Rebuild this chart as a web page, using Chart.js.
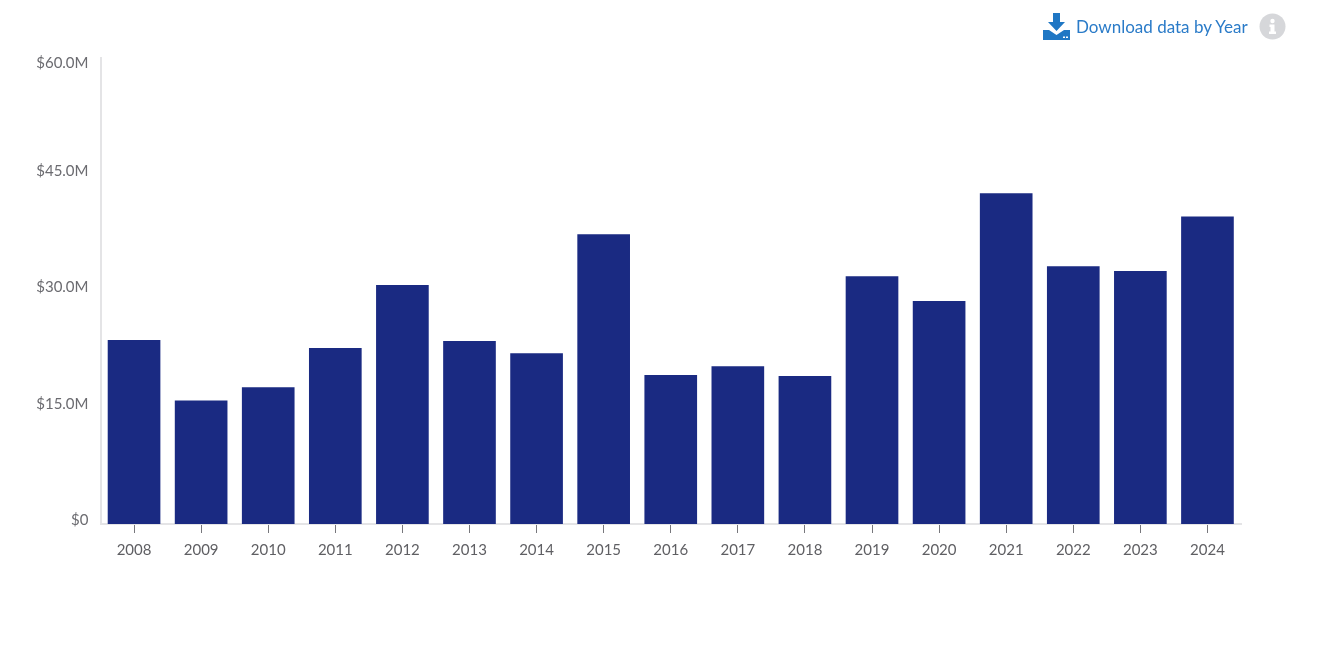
<!DOCTYPE html>
<html>
<head>
<meta charset="utf-8">
<title>Funding by year</title>
<script src="https://cdn.jsdelivr.net/npm/chart.js@4"></script>
<style>
    html, body { margin: 0; padding: 0; background: #fff; }
    #wrap { position: relative; width: 1317px; height: 648px; overflow: hidden; }
    #chart { position: absolute; left: 0; top: 0; }
    #download { position: absolute; left: 1043px; top: 12px; height: 28px; display: flex; align-items: center; text-decoration: none;
        color: #2a7bc8; font: 17px Lato, sans-serif; }
    #download svg { margin-right: 6px; }
    #info { position: absolute; left: 1259px; top: 13px; }
</style>
</head>
<body>
<div id="wrap">
    <canvas id="chart" width="1317" height="648"></canvas>
    <a id="download" href="#">
        <svg width="27" height="27" viewBox="0 0 27 27">
            <path d="M10 0h7v9h5l-8.500 9L5 9h5z" fill="#1f77c4"/>
            <path d="M0 17h6l7.500 5 7.500-5h6v10H0z" fill="#1f77c4"/>
            <rect x="20" y="23.500" width="2" height="1.500" fill="#fff"/>
            <rect x="23" y="23.500" width="2" height="1.500" fill="#fff"/>
        </svg>Download data by Year</a>
    <svg id="info" width="27" height="27" viewBox="0 0 27 27">
        <circle cx="13.500" cy="13.500" r="13" fill="#d6d7da"/>
        <circle cx="13.500" cy="8" r="2.200" fill="#fff"/>
        <path d="M10.500 11.500h5v7h1.500v2.500h-7v-2.500h1.500v-4.500h-1z" fill="#fff"/>
    </svg>
</div>
<script>
const years = ['2008','2009','2010','2011','2012','2013','2014','2015','2016','2017','2018','2019','2020','2021','2022','2023','2024'];
const fundingM = [23.7, 15.9, 17.6, 22.65, 30.76, 23.55, 22.0, 37.3, 19.2, 20.3, 19.05, 31.9, 28.7, 42.6, 33.2, 32.56, 39.6];
const yTickStep = 15;
const yMax = 60;

const fontFamily = "Lato, sans-serif";

new Chart(document.getElementById('chart').getContext('2d'), {
    type: 'bar',
    data: {
        labels: years,
        datasets: [{
            data: fundingM,
            backgroundColor: '#1a2a82',
            barPercentage: 0.785,
            categoryPercentage: 1
        }]
    },
    options: {
        responsive: false,
        animation: false,
        layout: { padding: { top: 58, right: 76, bottom: 64, left: 0 } },
        plugins: { legend: { display: false }, tooltip: { enabled: false } },
        scales: {
            x: {
                // offset false puts the tick marks under the bars instead of between them
                grid: { drawOnChartArea: false, offset: false, tickLength: 9, tickColor: '#77777c', tickWidth: 1 },
                border: { color: '#e4e4e6', width: 2 },
                ticks: { color: '#5f5f63', padding: 8, maxRotation: 0, autoSkip: false, font: { family: fontFamily, size: 15 } },
                afterFit(scale) { scale.height = 60; }
            },
            y: {
                min: 0,
                max: yMax,
                grid: { display: false },
                border: { color: '#e4e4e6', width: 2 },
                ticks: {
                    stepSize: yTickStep,
                    color: '#6b6b70',
                    padding: 4,
                    // two-line labels push the text off the tick: up for most, down for the top one
                    font: (ctx) => ({ family: fontFamily, size: 15, lineHeight: ctx.tick && ctx.tick.value === yMax ? 0.75 : 0.5 }),
                    callback(value) {
                        const text = value === 0 ? '$0' : '$' + value.toFixed(1) + 'M';
                        return value === yMax ? ['', text] : [text, ''];
                    }
                },
                afterFit(scale) { scale.width = 100.5; }
            }
        }
    }
});
</script>
</body>
</html>
